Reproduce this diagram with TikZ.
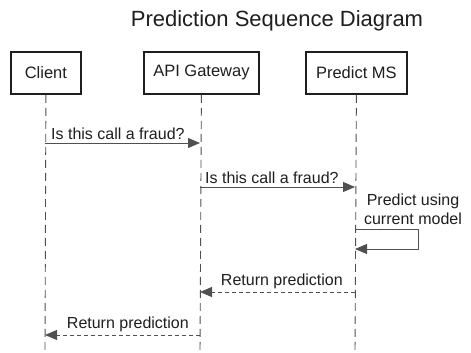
\documentclass[tikz,border=0pt]{standalone}
\usepackage{fontspec}
\setmainfont{Liberation Sans}
\usetikzlibrary{arrows.meta}
\definecolor{ink}{HTML}{1E1E1E}
\definecolor{wire}{HTML}{505050}
\begin{document}
\begin{tikzpicture}[x=1pt,y=-1pt,
  actor/.style={draw=ink,line width=1.8pt,minimum height=42pt,inner sep=0pt,font=\fontsize{16.5}{19}\selectfont,text=ink,anchor=north west},
  lifeline/.style={draw=wire,line width=0.9pt,dash pattern=on 8pt off 5pt},
  call/.style={draw=wire,line width=0.9pt,-{Triangle[length=12pt,width=10pt]}},
  reply/.style={draw=wire,line width=0.9pt,dash pattern=on 4pt off 3pt,-{Triangle[length=12pt,width=10pt]}},
  msg/.style={font=\fontsize{16}{18}\selectfont,text=ink,inner sep=1pt}]
\useasboundingbox (0,0) rectangle (471,353);
\node[font=\fontsize{22}{25}\selectfont,text=ink] (title) at (277,21) {Prediction Sequence Diagram};
% participants
\node[actor,minimum width=70pt] (client) at (10,51) {Client};
\node[actor,minimum width=115pt] (gw) at (143,51) {API Gateway};
\node[actor,minimum width=101pt] (ms) at (305,51) {Predict MS};
% lifeline ends
\coordinate (cEnd) at (45,353);
\coordinate (gEnd) at (200,353);
\coordinate (mEnd) at (355,353);
\draw[lifeline] (client.south) -- (cEnd);
\draw[lifeline] (gw.south) -- (gEnd);
\draw[lifeline] (ms.south) -- (mEnd);
% message points
\coordinate (c1) at (45,143); \coordinate (g1) at (200,143);
\coordinate (g2) at (200,187); \coordinate (m2) at (355,187);
\coordinate (m3) at (355,229); \coordinate (m3b) at (355,249);
\coordinate (m4) at (355,292); \coordinate (g4) at (200,292);
\coordinate (g5) at (200,335); \coordinate (c5) at (45,335);
% messages
\draw[call] (c1) -- (g1);
\node[msg,anchor=south west] (l1) at (50,141) {Is this call a fraud?};
\draw[call] (g2) -- (m2);
\node[msg,anchor=south west] (l2) at (204,185) {Is this call a fraud?};
\node[msg,align=center,font=\fontsize{16}{19}\selectfont] (l3) at (413,209) {Predict using\\current model};
\draw[call] (m3) -- (418,229) -- (418,249) -- (m3b);
\draw[reply] (m4) -- (g4);
\node[msg,anchor=south east] (l4) at (344,290) {Return prediction};
\draw[reply] (g5) -- (c5);
\node[msg,anchor=south east] (l5) at (190,333) {Return prediction};
\end{tikzpicture}
\end{document}
